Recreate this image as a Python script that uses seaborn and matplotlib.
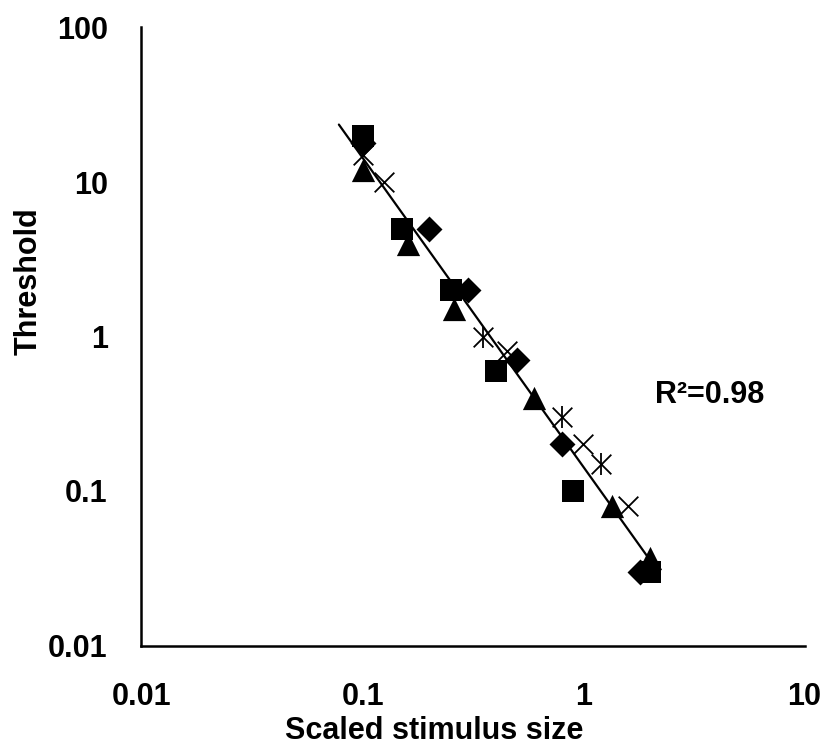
import numpy as np
import pandas as pd
import matplotlib
matplotlib.use("Agg")
import matplotlib.pyplot as plt
import seaborn as sns

# Data
sq_x = [0.1, 0.15, 0.25, 0.40, 0.90, 2.0]
sq_y = [20, 5.0, 2.0, 0.60, 0.10, 0.030]
dia_x = [0.1, 0.20, 0.30, 0.50, 0.80, 1.8]
dia_y = [18, 5.0, 2.0, 0.70, 0.20, 0.030]
tri_x = [0.1, 0.16, 0.26, 0.60, 1.35, 2.0]
tri_y = [12, 4.0, 1.5, 0.40, 0.08, 0.037]
crs_x = [0.1, 0.125, 0.45, 1.0, 1.6]
crs_y = [15, 10, 0.80, 0.20, 0.08]
ast_x = [0.35, 0.80, 1.2]
ast_y = [1.0, 0.30, 0.15]

x_ticks = [0.01, 0.1, 1, 10]
x_tick_labels = ["0.01", "0.1", "1", "10"]
y_ticks = [0.01, 0.1, 1, 10, 100]
y_tick_labels = ["0.01", "0.1", "1", "10", "100"]

sns.set_style("white")
plt.rcParams["font.family"] = ["Liberation Sans", "DejaVu Sans"]
plt.rcParams["font.weight"] = "bold"
plt.rcParams["text.color"] = "black"
plt.rcParams["axes.labelcolor"] = "black"

fig = plt.figure(figsize=(8.26, 7.53), dpi=100)
ax = fig.add_axes([0.1707, 0.1421, 0.804, 0.822])

k = dict(color="black", edgecolor="black", linewidth=0, legend=False, ax=ax, zorder=3)
sns.scatterplot(x=sq_x, y=sq_y, marker="s", s=240, **k)
sns.scatterplot(x=dia_x, y=dia_y, marker="D", s=175, **k)
sns.scatterplot(x=tri_x, y=tri_y, marker="^", s=280, **k)
kl = dict(color="black", legend=False, ax=ax, zorder=3)
sns.scatterplot(x=crs_x, y=crs_y, marker="x", s=200, linewidth=1.3, **kl)
sns.scatterplot(x=ast_x, y=ast_y, marker="x", s=200, linewidth=1.3, **kl)
sns.scatterplot(x=ast_x, y=ast_y, marker="|", s=260, linewidth=1.3, **kl)

# power-law fit through all points
all_x = np.array(sq_x + dia_x + tri_x + crs_x + ast_x)
all_y = np.array(sq_y + dia_y + tri_y + crs_y + ast_y)
b, a = np.polyfit(np.log10(all_x), np.log10(all_y), 1)
fx = np.array([0.078, 2.0])
fit = pd.DataFrame({"x": fx, "y": 10 ** (a + b * np.log10(fx))})
sns.lineplot(data=fit, x="x", y="y", color="black", linewidth=1.6, ax=ax, zorder=2)

ax.set_xscale("log")
ax.set_yscale("log")
ax.set_xlim(0.0099, 10.1)
ax.set_ylim(0.0099, 101)
ax.set_xticks(x_ticks)
ax.set_xticklabels(x_tick_labels)
ax.set_yticks(y_ticks)
ax.set_yticklabels(y_tick_labels)
ax.minorticks_off()
ax.tick_params(axis="both", which="major", direction="in", length=8, width=1.8,
               labelsize=22, colors="black", labelcolor="black")
ax.tick_params(axis="x", pad=26)
ax.tick_params(axis="y", pad=24)
for lab in ax.get_xticklabels() + ax.get_yticklabels():
    lab.set_fontweight("bold")

for s in ["top", "right"]:
    ax.spines[s].set_visible(False)
for s in ["left", "bottom"]:
    ax.spines[s].set_linewidth(1.8)
    ax.spines[s].set_color("black")

ax.set_xlabel("Scaled stimulus size", fontsize=22, fontweight="bold", color="black")
ax.set_ylabel("Threshold", fontsize=22, fontweight="bold", color="black")
ax.xaxis.set_label_coords(0.441, -0.113)
ax.yaxis.set_label_coords(-0.146, 0.59)

ax.text(2.12, 0.42, "R²=0.98", fontsize=22, fontweight="bold", ha="left", va="center",
        color="black")

fig.savefig("out.png", dpi=100)
